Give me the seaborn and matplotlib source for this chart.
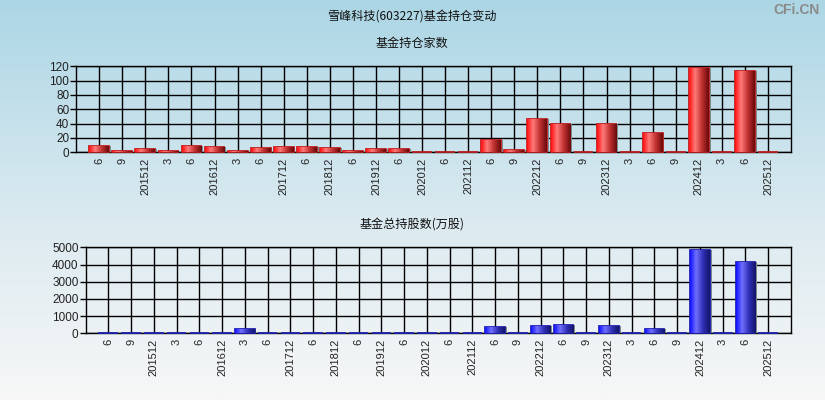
import numpy as np
import pandas as pd
import matplotlib
matplotlib.use("Agg")
import matplotlib.pyplot as plt
from matplotlib.colors import LinearSegmentedColormap
import seaborn as sns

periods = ["6", "9", "201512", "3", "6", "201612", "3", "6", "201712", "6",
           "201812", "6", "201912", "6", "202012", "6", "202112", "6", "9", "202212",
           "6", "9", "202312", "3", "6", "9", "202412", "3", "6", "202512"]
fund_count = [9, 2, 4, 2, 9, 8, 2, 6, 8, 8,
              6, 2, 5, 5, 1, 1, 1, 17, 3, 47,
              40, 1, 40, 1, 27, 1, 118, 1, 114, 1]
fund_shares = [40, 40, 40, 40, 40, 40, 250, 40, 40, 40,
               40, 40, 40, 40, 40, 40, 40, 380, 40, 440,
               500, 40, 440, 40, 270, 40, 4860, 40, 4170, 40]

title = "雪峰科技(603227)基金持仓变动"
sub1 = "基金持仓家数"
sub2 = "基金总持股数(万股)"

sns.set_theme(style="white")
plt.rcParams["font.family"] = ["Noto Sans CJK SC", "DejaVu Sans"]

W, H = 825, 400
fig = plt.figure(figsize=(W / 100, H / 100), dpi=100)

# background gradient
bg = fig.add_axes([0, 0, 1, 1], zorder=-10)
grad = np.linspace(0, 1, 256)[:, None]
bg_cmap = LinearSegmentedColormap.from_list(
    "bg", [(0, "#acd6e5"), (0.55, "#dbeaf0"), (1, "#f7f7f7")])
bg.imshow(grad, aspect="auto", cmap=bg_cmap, extent=[0, 1, 0, 1], origin="upper")
bg.set_axis_off()

def px_axes(l, t, r, b):
    return fig.add_axes([l / W, 1 - b / H, (r - l) / W, (b - t) / H])

ax1 = px_axes(76.2, 66.3, 791, 152.3)
ax2 = px_axes(85.5, 247.3, 791, 333.3)

red_cmap = LinearSegmentedColormap.from_list(
    "red", [(0, "#ff1010"), (0.3, "#ff7a7a"), (0.65, "#c03030"), (1, "#6a0a0a")])
blue_cmap = LinearSegmentedColormap.from_list(
    "blue", [(0, "#1010ff"), (0.3, "#7070ff"), (0.65, "#3030b8"), (1, "#141468")])

def draw(ax, values, cmap, base_color, ymax, yticks):
    df = pd.DataFrame({"pos": list(range(len(values))), "val": values})
    sns.barplot(data=df, x="pos", y="val", ax=ax, color=base_color,
                width=0.86, saturation=1, edgecolor=base_color, linewidth=1.3,
                zorder=3)
    ax.set_xlim(-1, len(values))
    ax.set_ylim(0, ymax)
    gimg = np.linspace(0, 1, 64)[None, :]
    for p in list(ax.patches):
        p.set_clip_on(False)
        x0, y0 = p.get_x(), p.get_y()
        w, h = p.get_width(), p.get_height()
        if h <= 0:
            continue
        # shadow
        ax.add_patch(plt.Rectangle((x0 + w + 0.02, y0), 0.06, h, color="#7a8a90",
                                   zorder=2.9, lw=0))
        im = ax.imshow(gimg, aspect="auto", cmap=cmap,
                       extent=[x0, x0 + w, y0, y0 + h], zorder=3.1)
        im.set_clip_path(p)
    ax.set_xlim(-1, len(values))
    ax.set_ylim(0, ymax)
    ax.set_facecolor("none")
    ax.set_xlabel("")
    ax.set_ylabel("")
    ax.set_xticks(range(len(values)))
    ax.set_xticklabels(periods, rotation=90, fontsize=8,
                       family=["Liberation Sans", "DejaVu Sans"])
    ax.set_xticks([-1, len(values)], minor=True)
    ax.set_yticks(yticks)
    ax.set_yticklabels([str(v) for v in yticks], fontsize=8.5,
                       family=["Liberation Sans", "DejaVu Sans"])
    ax.tick_params(axis="x", which="major", length=0, pad=4, colors="#222222")
    ax.tick_params(axis="x", which="minor", length=4, width=1, color="black",
                   direction="out")
    ax.tick_params(axis="y", length=4, width=1, color="black", direction="out",
                   left=True, pad=1, colors="#222222")
    ax.tick_params(axis="y", color="black")
    ax.grid(True, color="black", lw=1, zorder=1)
    ax.set_axisbelow(True)
    for s in ax.spines.values():
        s.set_color("black")
        s.set_linewidth(1)
        s.set_zorder(2.5)

draw(ax1, fund_count, red_cmap, "#c02020", 120, [0, 20, 40, 60, 80, 100, 120])
draw(ax2, fund_shares, blue_cmap, "#2020b0", 5000, [0, 1000, 2000, 3000, 4000, 5000])

fig.text(412 / W, 1 - 17 / H, title, ha="center", va="center", fontsize=8.7,
         color="#111111")
fig.text(412 / W, 1 - 43 / H, sub1, ha="center", va="center", fontsize=8.7,
         color="#111111")
fig.text(412 / W, 1 - 225 / H, sub2, ha="center", va="center", fontsize=8.7,
         color="#111111")
fig.text(820 / W, 1 - 10 / H, "CFi.CN", ha="right", va="center", fontsize=10,
         color="#8a8a8a", family=["Liberation Sans", "DejaVu Sans"], weight="bold")

fig.savefig("out.png", dpi=100)
